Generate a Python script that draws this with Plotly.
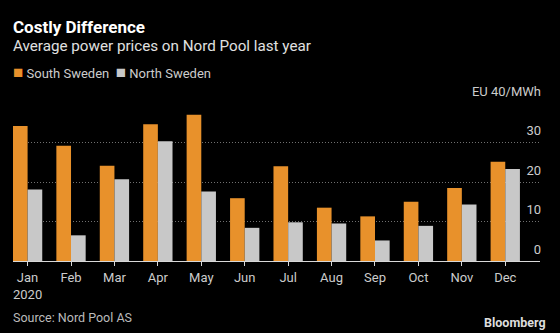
import plotly.graph_objects as go

months = ["Jan", "Feb", "Mar", "Apr", "May", "Jun", "Jul", "Aug", "Sep", "Oct", "Nov", "Dec"]
month_labels = ["Jan<br>2020", "Feb", "Mar", "Apr", "May", "Jun", "Jul", "Aug", "Sep", "Oct", "Nov", "Dec"]
south_sweden = [34.2, 29.2, 24.1, 34.6, 37.0, 15.9, 24.0, 13.5, 11.3, 15.0, 18.5, 25.1]
north_sweden = [18.1, 6.5, 20.7, 30.3, 17.6, 8.4, 9.8, 9.5, 5.2, 8.9, 14.3, 23.3]
y_tickvals = [0, 10, 20, 30, 40]
y_ticktext = ["0", "10", "20", "30", "EU 40/MWh"]

W, H = 560, 333
L, R, T, B = 12.7, 20, 103, 72
PW, PH = W - L - R, H - T - B

def px(x):
    return (x - L) / PW

def py(y):
    return (H - B - y) / PH

ORANGE = "#E8912B"
GREY = "#C8C8C8"
FONT = "Roboto"

fig = go.Figure()
fig.add_trace(go.Bar(x=months, y=south_sweden, name="South Sweden", marker_color=ORANGE,
                     marker_line_width=0, showlegend=False))
fig.add_trace(go.Bar(x=months, y=north_sweden, name="North Sweden", marker_color=GREY,
                     marker_line_width=0, showlegend=False))

fig.update_layout(
    width=W, height=H,
    margin=dict(l=L, r=R, t=T, b=B, pad=0),
    paper_bgcolor="black", plot_bgcolor="black",
    barmode="group", bargap=0.325, bargroupgap=0,
    font=dict(family=FONT, color="#CCCCCC", size=12.5),
    xaxis=dict(
        type="category", range=[-0.336, 11.8],
        tickmode="array", tickvals=months, ticktext=month_labels,
        showline=True, linecolor="#D8D8D8", linewidth=1,
        ticks="outside", ticklen=4, tickcolor="#D8D8D8", tickwidth=1,
        showgrid=False, zeroline=False,
        tickfont=dict(size=13, color="#CCCCCC"),
    ),
    yaxis=dict(
        range=[0, 40], side="right",
        tickmode="array", tickvals=y_tickvals, ticktext=y_ticktext,
        ticklabelposition="inside", ticklabeloverflow="allow",
        ticklabelshift=-12, ticklabelstandoff=-4,
        ticks="", showline=False, zeroline=False,
        showgrid=True, gridcolor="#707070", griddash="1px,2px", gridwidth=1,
        tickfont=dict(size=13, color="#CCCCCC"),
    ),
    annotations=[
        dict(text="<b>Costly Difference</b>", x=px(11), y=py(27), xref="paper", yref="paper",
             xanchor="left", yanchor="middle", showarrow=False,
             font=dict(family=FONT, size=17, color="white")),
        dict(text="Average power prices on Nord Pool last year", x=px(11), y=py(46), xref="paper", yref="paper",
             xanchor="left", yanchor="middle", showarrow=False,
             font=dict(family=FONT, size=15.2, color="#E0E0E0")),
        dict(text=f"<span style='color:{ORANGE};font-size:17px'>■</span> South Sweden  "
                  f"<span style='color:{GREY};font-size:17px'>■</span> North Sweden",
             x=px(11), y=py(72), xref="paper", yref="paper",
             xanchor="left", yanchor="middle", showarrow=False,
             font=dict(family=FONT, size=13, color="#CCCCCC")),
        dict(text="Source: Nord Pool AS", x=px(11), y=py(317.5), xref="paper", yref="paper",
             xanchor="left", yanchor="middle", showarrow=False,
             font=dict(family=FONT, size=12.5, color="#BBBBBB")),
        dict(text="<b>Bloomberg</b>", x=px(548), y=py(322), xref="paper", yref="paper",
             xanchor="right", yanchor="middle", showarrow=False,
             font=dict(family=FONT, size=12.5, color="#DDDDDD")),
    ],
)

fig.write_html("out.html")
